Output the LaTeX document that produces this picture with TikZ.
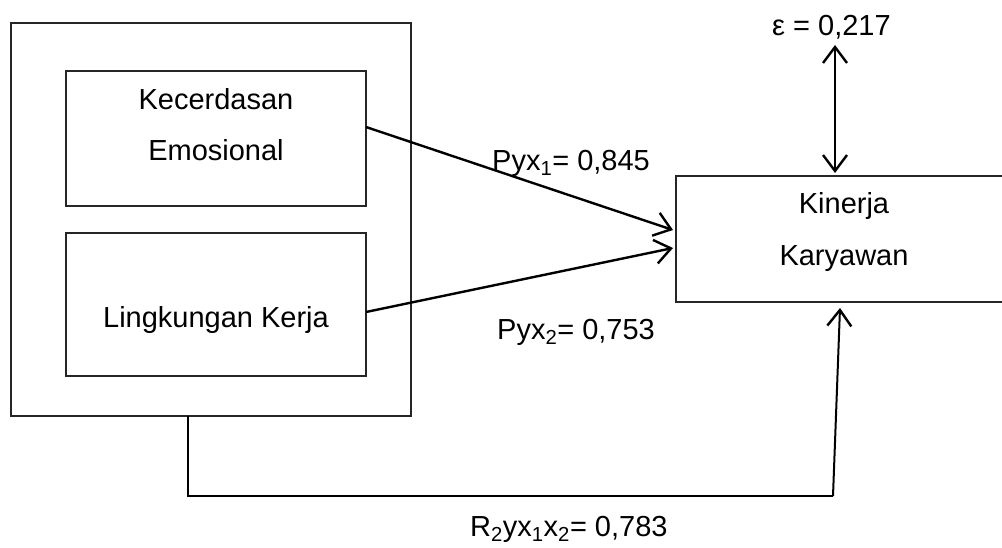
\documentclass[tikz,border=0pt]{standalone}
\usepackage{fontspec}
\setmainfont{Liberation Sans}
\usetikzlibrary{arrows.meta}
\begin{document}
\begin{tikzpicture}[x=1pt,y=-1pt,
  box/.style={draw=black!85,line width=1.6pt,inner sep=0pt},
  txt/.style={anchor=base,inner sep=0pt,font=\fontsize{29}{34}\selectfont},
  lbl/.style={anchor=base west,inner sep=0pt,font=\fontsize{29}{34}\selectfont},
  conn/.style={line width=2.4pt,-{Straight Barb[length=16pt,width=24pt,line width=2.4pt]}},
  plain/.style={line width=2pt}]
\useasboundingbox (0,0) rectangle (1002,547);
\clip (0,0) rectangle (1002,547);
% outer group box
\node[box,minimum width=400pt,minimum height=393pt] (outer) at (211,219.5) {};
\node[box,minimum width=300pt,minimum height=135pt] (ke) at (216,138.5) {};
\node[box,minimum width=300pt,minimum height=143pt] (lk) at (216,304.5) {};
\node[box,minimum width=336pt,minimum height=126pt] (kk) at (844,239) {};
% texts
\node[txt] (t1) at (216,109) {Kecerdasan};
\node[txt] (t2) at (216,160) {Emosional};
\node[txt] (t3) at (216,327) {Lingkungan Kerja};
\node[txt] (t4) at (844,213) {Kinerja};
\node[txt] (t5) at (844,265) {Karyawan};
% anchors for connectors
\coordinate (a1) at (366,127);
\coordinate (b1) at (673,230);
\coordinate (a2) at (366,312);
\coordinate (b2) at (673,248);
\coordinate (e1) at (835,45);
\coordinate (e2) at (835,173);
\coordinate (c0) at (188,416);
\coordinate (c1) at (188,496);
\coordinate (c2) at (833,496);
\coordinate (c3) at (840,308);
\draw[conn] (a1) -- (b1);
\draw[conn] (a2) -- (b2);
\draw[line width=2.4pt,{Straight Barb[length=16pt,width=24pt,line width=2.4pt]}-{Straight Barb[length=16pt,width=24pt,line width=2.4pt]}] (e1) -- (e2);
\draw[plain] (c0) -- (c1) -- (c2);
\draw[conn,line width=2pt] (c2) -- (c3);
% labels
\node[lbl] (p1) at (492,170) {Pyx\textsubscript{1}= 0,845};
\node[lbl] (p2) at (497,339) {Pyx\textsubscript{2}= 0,753};
\node[lbl] (eps) at (772,35) {ε = 0,217};
\node[lbl] (r2) at (470,536) {R\textsubscript{2}yx\textsubscript{1}x\textsubscript{2}= 0,783};
\end{tikzpicture}
\end{document}
